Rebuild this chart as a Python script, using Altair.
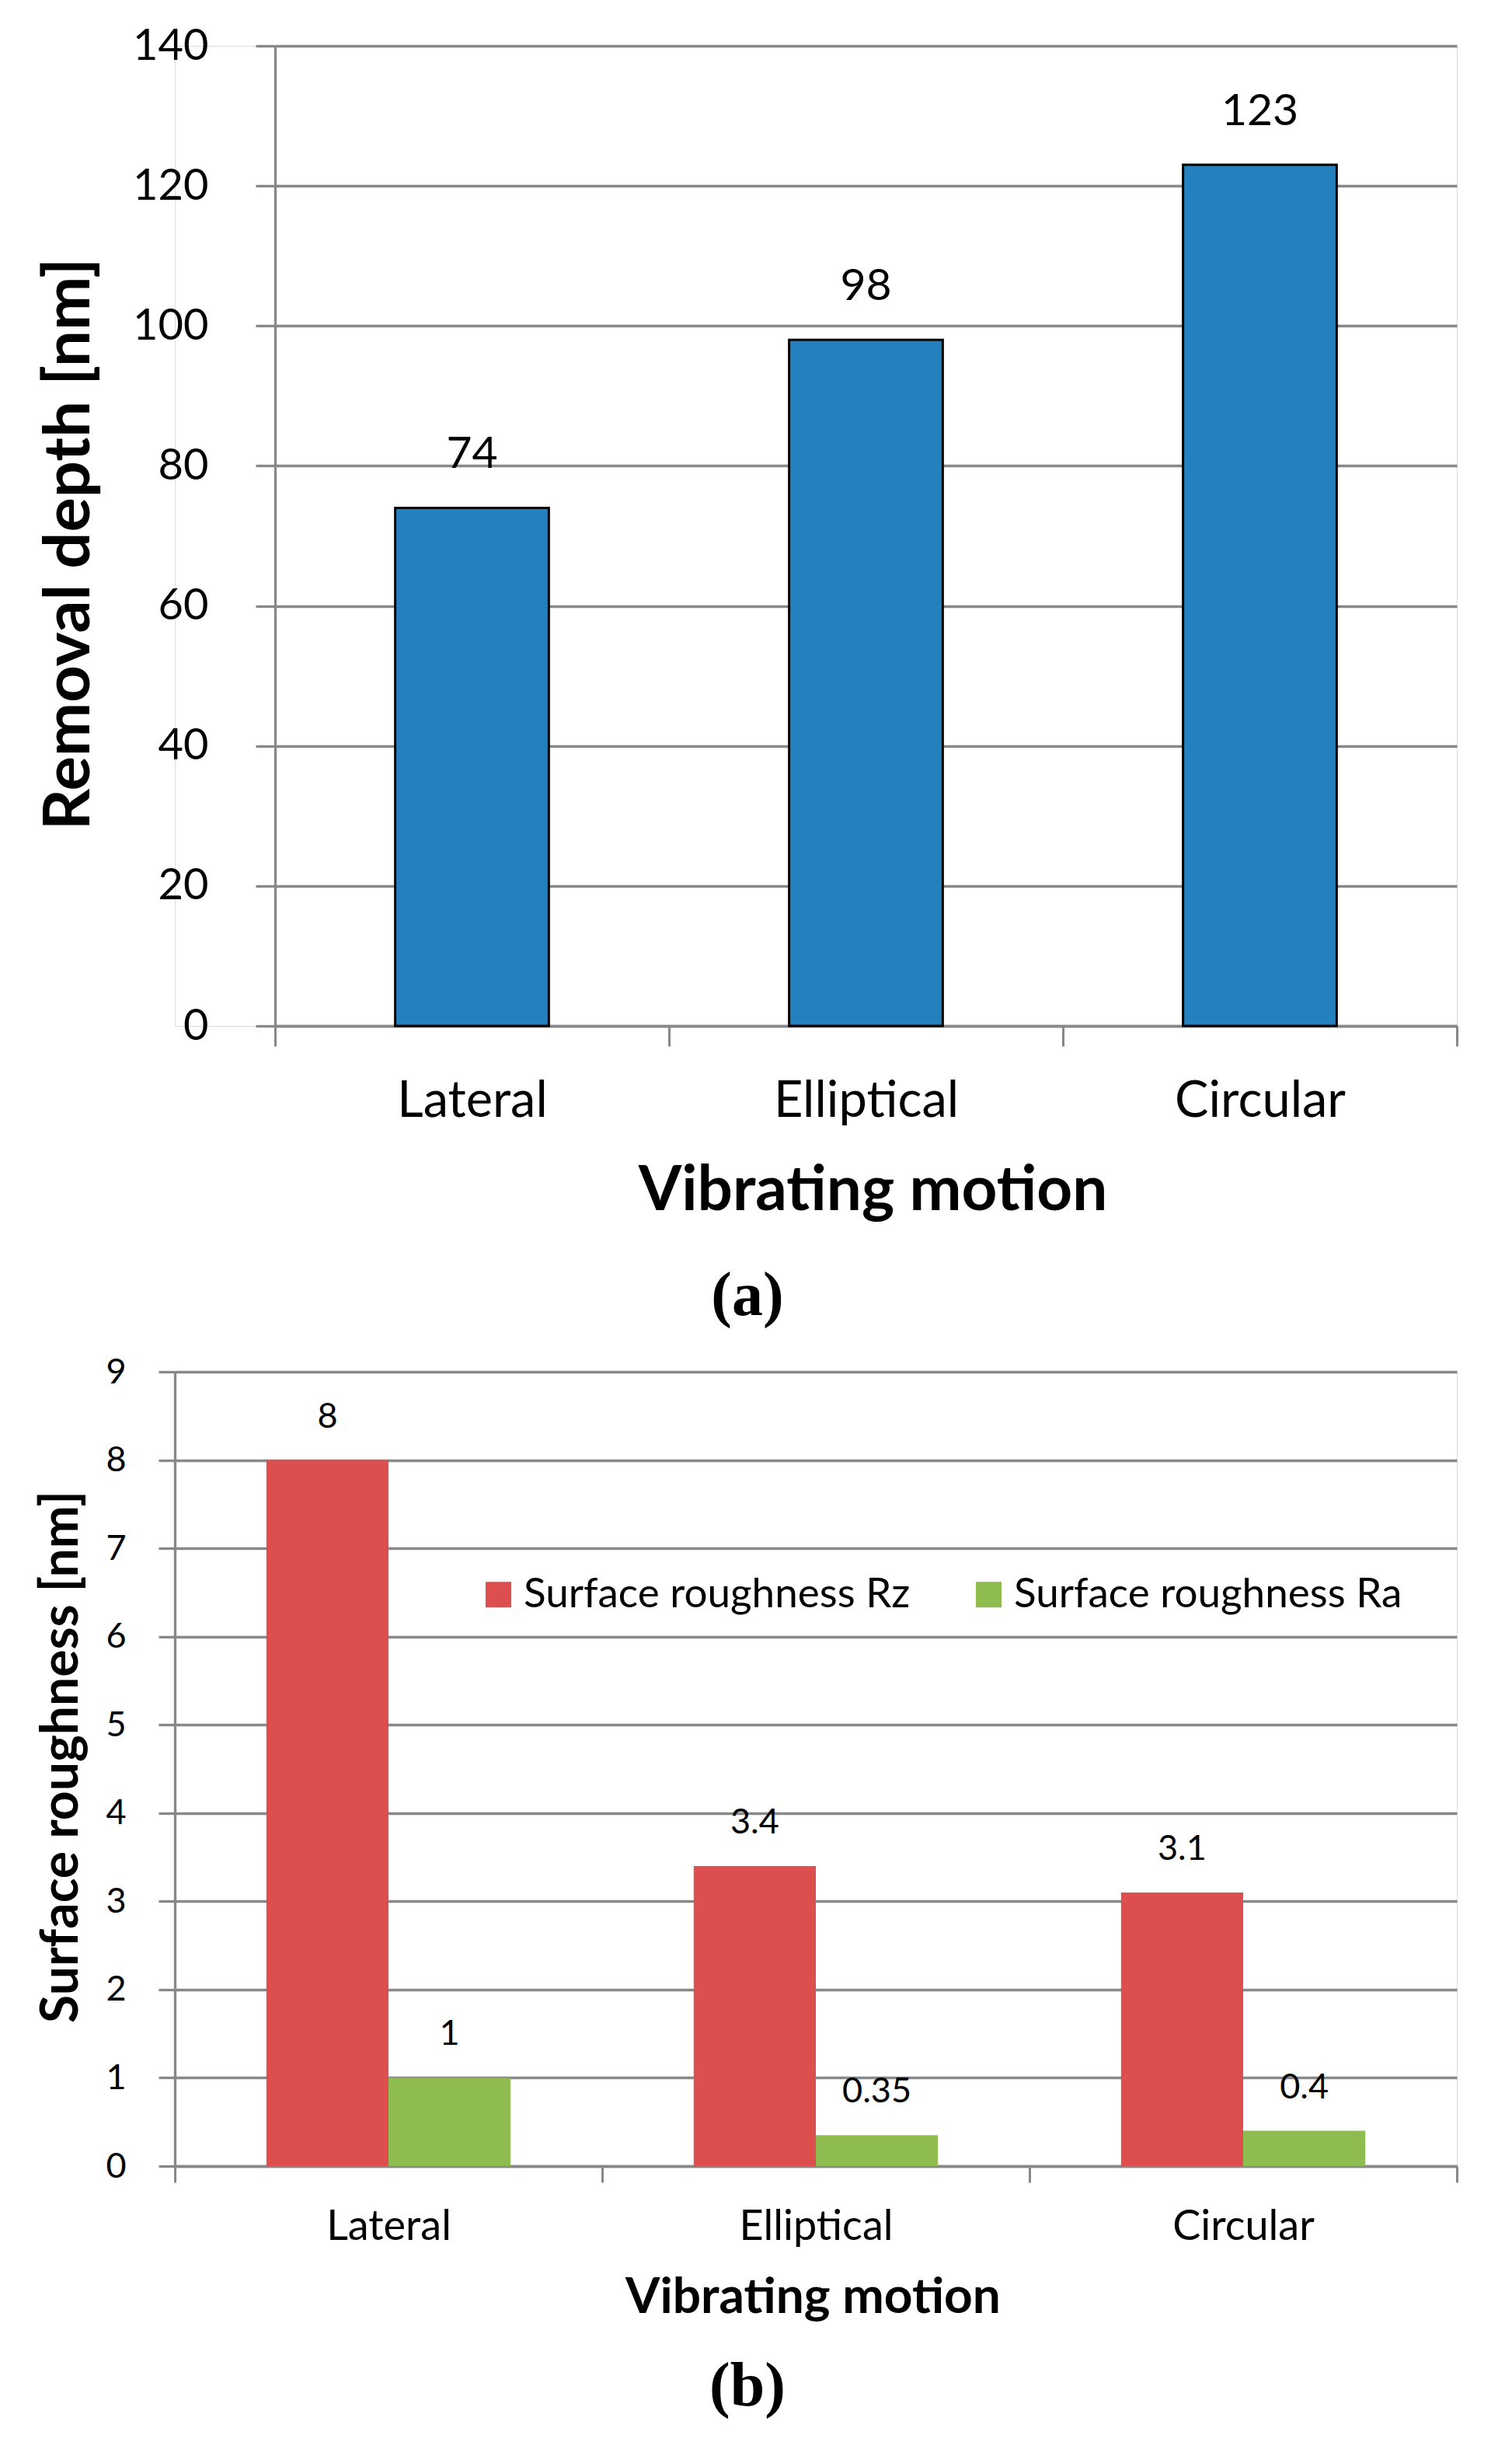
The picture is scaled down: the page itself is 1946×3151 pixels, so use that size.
import altair as alt
import pandas as pd

# ---- data ----
motions = ["Lateral", "Elliptical", "Circular"]
removal_depth = [74, 98, 123]
rz_values = [8, 3.4, 3.1]
ra_values = [1, 0.35, 0.4]
series_names = ["Surface roughness Rz", "Surface roughness Ra"]
ticks_a = [0, 20, 40, 60, 80, 100, 120, 140]
ticks_b = [0, 1, 2, 3, 4, 5, 6, 7, 8, 9]

# ---- styles ----
GRID = "#888888"
BLUE = "#2580BE"
RED = "#DD4F4E"
GREEN = "#8EBC50"
FONT = "Lato"

df_a = pd.DataFrame({"motion": motions, "depth": removal_depth})
rows = []
for m, rz, ra in zip(motions, rz_values, ra_values):
    rows.append({"motion": m, "series": series_names[0], "value": rz})
    rows.append({"motion": m, "series": series_names[1], "value": ra})
df_b = pd.DataFrame(rows)

WB = 1650          # panel (b) plot width (and common group width)
SHIFT = 129        # panel (a) plot starts this far right of panel (b)
HA = 1261
HB = 1022

# ---------------- panel (a) ----------------
xa = alt.X(
    "motion:N", sort=motions, title="Vibrating motion",
    scale=alt.Scale(paddingInner=0, paddingOuter=0, range=[SHIFT, WB]),
    axis=alt.Axis(
        labelAngle=0, tickBand="extent", grid=False, labelLimit=1000,
        domainColor=GRID, domainWidth=3.3, tickColor=GRID, tickWidth=3, tickSize=26,
        labelFont=FONT, labelFontSize=65, labelColor="black",
        labelBaseline="middle", labelPadding=70,
        titleFont=FONT, titleFontSize=80, titleFontWeight="bold", titleColor="black",
        titleBaseline="middle", titleY=212, titleX=898,
    ),
)
ya = alt.Y(
    "depth:Q", title="Removal depth [nm]",
    scale=alt.Scale(domain=[0, 140], nice=False),
    axis=alt.Axis(
        values=ticks_a, grid=True, gridColor=GRID, gridWidth=3.3, format="d", offset=-SHIFT,
        domainColor=GRID, domainWidth=3.3, tickColor=GRID, tickWidth=3.3, tickSize=25,
        labelFont=FONT, labelFontSize=56, labelColor="black", labelPadding=61,
        titleFont=FONT, titleFontSize=83, titleFontWeight="bold", titleColor="black",
        titleX=-265, titleY=HA / 2 + 10, titleAngle=270, titleAlign="center", titleBaseline="middle",
    ),
)
base_a = alt.Chart(df_a)
bars_a = base_a.mark_bar(
    color=BLUE, stroke="black", strokeWidth=3, width=alt.RelativeBandSize(0.39)
).encode(x=xa, y=ya)
text_a = base_a.mark_text(
    font=FONT, fontSize=57, color="black", baseline="middle", dy=-68
).encode(x=alt.X("motion:N", sort=motions), y=alt.Y("depth:Q"), text=alt.Text("depth:Q"))

panel_a = alt.layer(bars_a, text_a).properties(
    width=WB, height=HA,
    title=alt.TitleParams(
        "(a)", orient="bottom", anchor="middle", frame="group",
        font="Liberation Serif", fontSize=80, fontWeight="bold", color="black",
        dx=-88, offset=57,
    ),
)

# ---------------- panel (b) ----------------
xb = alt.X(
    "motion:N", sort=motions, title="Vibrating motion",
    scale=alt.Scale(paddingInner=0, paddingOuter=0),
    axis=alt.Axis(
        labelAngle=0, tickBand="extent", grid=False, labelLimit=1000,
        domainColor=GRID, domainWidth=3.3, tickColor=GRID, tickWidth=3, tickSize=21,
        labelFont=FONT, labelFontSize=54, labelColor="black",
        labelBaseline="middle", labelPadding=57,
        titleFont=FONT, titleFontSize=64, titleFontWeight="bold", titleColor="black",
        titleBaseline="middle", titleY=169, titleX=821,
    ),
)
yb = alt.Y(
    "value:Q", title="Surface roughness [nm]",
    scale=alt.Scale(domain=[0, 9], nice=False),
    axis=alt.Axis(
        values=ticks_b, grid=True, gridColor=GRID, gridWidth=3.3, format="d",
        domainColor=GRID, domainWidth=3.3, tickColor=GRID, tickWidth=3.3, tickSize=21,
        labelFont=FONT, labelFontSize=45, labelColor="black", labelPadding=42,
        titleFont=FONT, titleFontSize=66, titleFontWeight="bold", titleColor="black",
        titleX=-146, titleY=HB / 2 - 16, titleAngle=270, titleAlign="center", titleBaseline="middle",
    ),
)
xoff = alt.XOffset(
    "series:N", sort=series_names,
    scale=alt.Scale(domain=series_names, paddingInner=0, paddingOuter=0.75),
)
color_b = alt.Color(
    "series:N", sort=series_names,
    scale=alt.Scale(domain=series_names, range=[RED, GREEN]),
    legend=alt.Legend(
        title=None, orient="none", legendX=390, legendY=260, direction="horizontal",
        symbolType="square", symbolSize=1089, symbolStrokeWidth=0, symbolOpacity=1,
        labelFont=FONT, labelFontSize=53, labelColor="black", labelOffset=6,
        columnPadding=74, padding=0, labelLimit=0,
    ),
)
base_b = alt.Chart(df_b)
bars_b = base_b.mark_bar().encode(x=xb, y=yb, xOffset=xoff, color=color_b)
text_b = base_b.mark_text(
    font=FONT, fontSize=45, color="black", baseline="middle", dy=-56
).encode(
    x=alt.X("motion:N", sort=motions),
    xOffset=alt.XOffset("series:N", sort=series_names),
    y=alt.Y("value:Q"),
    text=alt.Text("value:Q", format="~g"),
)
panel_b = alt.layer(bars_b, text_b).properties(
    width=WB, height=HB,
    title=alt.TitleParams(
        "(b)", orient="bottom", anchor="middle", frame="group",
        font="Liberation Serif", fontSize=80, fontWeight="bold", color="black",
        dx=-88, offset=44,
    ),
)

chart = alt.vconcat(panel_a, panel_b, spacing=33).resolve_scale(
    color="independent"
).resolve_legend(color="independent").properties(
    padding={"left": 37, "top": 22, "right": 5, "bottom": 5}
).configure_view(stroke=None).configure(background="white")

chart.save("out.html", embed_options={"renderer": "svg", "actions": False})
